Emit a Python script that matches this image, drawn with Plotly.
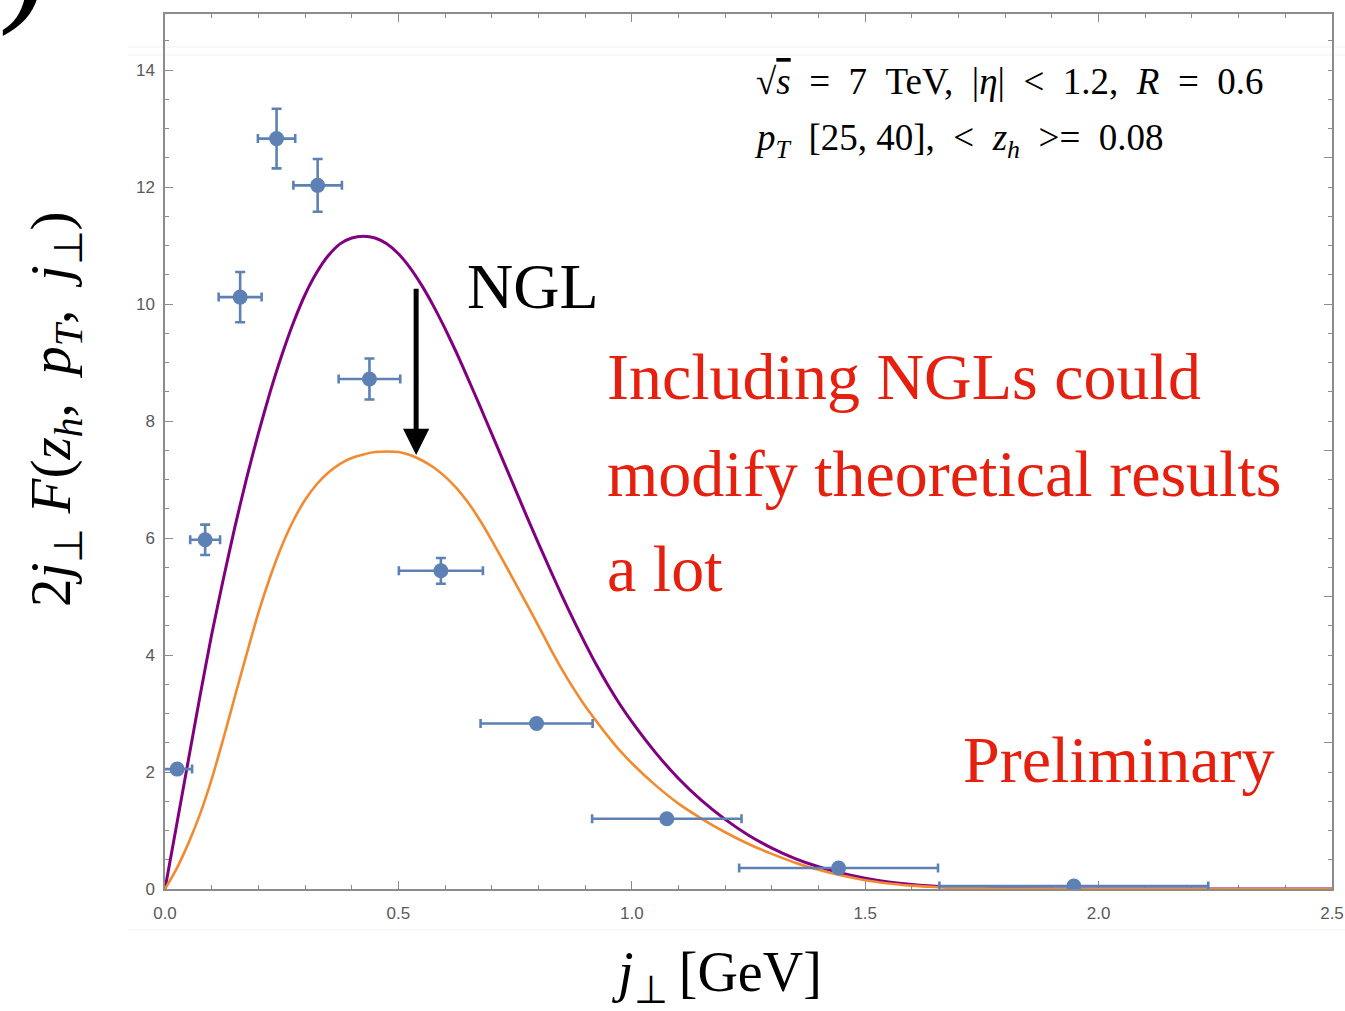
import plotly.graph_objects as go

# Measured j_perp distribution (bin centres, half-widths, uncertainties)
j_data = [0.026, 0.086, 0.161, 0.239, 0.327, 0.438, 0.591, 0.796, 1.075, 1.443, 1.947]
F_data = [2.05, 5.97, 10.12, 12.83, 12.03, 8.72, 5.44, 2.83, 1.20, 0.36, 0.05]
j_err = [0.032, 0.032, 0.046, 0.040, 0.052, 0.066, 0.090, 0.120, 0.160, 0.213, 0.288]
F_err = [0.05, 0.26, 0.43, 0.51, 0.45, 0.35, 0.22, 0.0, 0.0, 0.0, 0.0]

# Theory curve without NGLs
purple_j = [0, 0.025, 0.05, 0.075, 0.1, 0.125, 0.15, 0.175, 0.2, 0.225, 0.25, 0.275,
            0.3, 0.325, 0.35, 0.375, 0.4, 0.425, 0.45, 0.475, 0.5, 0.525, 0.55, 0.575,
            0.6, 0.625, 0.65, 0.675, 0.7, 0.725, 0.75, 0.775, 0.8, 0.825, 0.85, 0.875,
            0.9, 0.925, 0.95, 0.975, 1.0, 1.05, 1.1, 1.15, 1.2, 1.25, 1.3, 1.35, 1.4,
            1.45, 1.5, 1.55, 1.6, 1.65, 1.7, 1.75, 1.8, 1.9, 2.0, 2.5]
purple_F = [0, 1.1, 2.2, 3.3, 4.35, 5.3, 6.2, 7.03, 7.79, 8.49, 9.12, 9.68,
            10.16, 10.54, 10.83, 11.03, 11.13, 11.16, 11.13, 11.03, 10.86, 10.62, 10.32, 9.97,
            9.58, 9.16, 8.71, 8.25, 7.78, 7.31, 6.84, 6.37, 5.91, 5.46, 5.02, 4.6,
            4.2, 3.82, 3.47, 3.15, 2.86, 2.34, 1.89, 1.51, 1.19, 0.92, 0.7, 0.52, 0.38,
            0.27, 0.185, 0.12, 0.075, 0.045, 0.025, 0.013, 0.006, 0.001, 0, 0]

# Theory curve with NGLs
orange_j = [0, 0.025, 0.05, 0.075, 0.1, 0.125, 0.15, 0.175, 0.2, 0.225, 0.25, 0.275,
            0.3, 0.325, 0.35, 0.375, 0.4, 0.425, 0.45, 0.475, 0.5, 0.525, 0.55, 0.575,
            0.6, 0.625, 0.65, 0.675, 0.7, 0.725, 0.75, 0.775, 0.8, 0.825, 0.85, 0.875,
            0.9, 0.925, 0.95, 0.975, 1.0, 1.05, 1.1, 1.15, 1.2, 1.25, 1.3, 1.35, 1.4,
            1.45, 1.5, 1.55, 1.6, 1.65, 1.7, 1.8, 1.9, 2.0, 2.5]
orange_F = [0, 0.35, 0.78, 1.28, 1.88, 2.57, 3.3, 4.02, 4.72, 5.33, 5.86, 6.3,
            6.65, 6.92, 7.12, 7.27, 7.37, 7.43, 7.47, 7.48, 7.47, 7.42, 7.33, 7.21,
            7.05, 6.85, 6.6, 6.3, 5.96, 5.6, 5.24, 4.87, 4.5, 4.12, 3.76, 3.43,
            3.13, 2.86, 2.6, 2.36, 2.15, 1.78, 1.46, 1.2, 0.97, 0.77, 0.6, 0.45, 0.33,
            0.23, 0.15, 0.095, 0.058, 0.034, 0.018, 0.004, 0.001, 0, 0]

x_ticks = [0.0, 0.5, 1.0, 1.5, 2.0, 2.5]
y_ticks = [0, 2, 4, 6, 8, 10, 12, 14]

X_RANGE = [0, 2.5]
Y_RANGE = [0, 14.96]

W, H = 1345, 1011
L, R, T, B = 165, 13, 14, 122
PW, PH = W - L - R, H - T - B


def px(xp):
    return (xp - L) / PW


def py(yp):
    return (H - B - yp) / PH


AX = "#8c8c8c"
BLUE = "#5E81B5"
RED = "#E6200F"
SERIF = "Liberation Serif"
EN = "\u2002"
THIN = "\u2009"

fig = go.Figure()

fig.add_trace(go.Scatter(x=purple_j, y=purple_F, mode="lines",
                         line=dict(color="#800080", width=3, shape="spline", smoothing=0.6),
                         hoverinfo="skip"))
fig.add_trace(go.Scatter(x=orange_j, y=orange_F, mode="lines",
                         line=dict(color="#F28A30", width=2.6, shape="spline", smoothing=0.6),
                         hoverinfo="skip"))
fig.add_trace(go.Scatter(x=j_data, y=F_data, mode="markers",
                         marker=dict(color=BLUE, size=15),
                         error_x=dict(type="data", array=j_err, color=BLUE, thickness=2.6, width=4.5),
                         error_y=dict(type="data", array=F_err, color=BLUE, thickness=2.6, width=5),
                         hoverinfo="skip"))
# carrier for the mirrored frame axes
fig.add_trace(go.Scatter(x=[None], y=[None], xaxis="x2", yaxis="y2", hoverinfo="skip"))

tickfont = dict(family="Liberation Sans", size=17, color="#5a5a5a")
common = dict(ticks="inside", ticklen=8, tickwidth=1, tickcolor=AX, showline=True,
              linecolor=AX, linewidth=1.5, showgrid=False, zeroline=False, automargin=False)

fig.update_layout(
    width=W, height=H,
    margin=dict(l=L, r=R, t=T, b=B),
    plot_bgcolor="white", paper_bgcolor="white",
    showlegend=False,
    xaxis=dict(range=X_RANGE, tickmode="array", tickvals=x_ticks,
               ticktext=[f"{v:.1f}" for v in x_ticks],
               minor=dict(ticks="inside", tickmode="linear", tick0=0, dtick=0.1, ticklen=4.5,
                          tickcolor=AX, showgrid=False),
               tickfont=tickfont, ticklabelstandoff=8, layer="below traces", **common),
    yaxis=dict(range=Y_RANGE, tickmode="array", tickvals=y_ticks,
               ticktext=[str(v) for v in y_ticks],
               minor=dict(ticks="inside", tickmode="linear", tick0=0, dtick=0.5, ticklen=4.5,
                          tickcolor=AX, showgrid=False),
               tickfont=tickfont, ticklabelstandoff=5, layer="below traces", **common),
    xaxis2=dict(range=X_RANGE, overlaying="x", side="top", showticklabels=False,
                tickmode="linear", tick0=0, dtick=0.5,
                minor=dict(ticks="inside", tickmode="linear", tick0=0, dtick=0.1, ticklen=4.5,
                           tickcolor=AX, showgrid=False), **common),
    yaxis2=dict(range=Y_RANGE, overlaying="y", side="right", showticklabels=False,
                tickmode="linear", tick0=0, dtick=2.5,
                minor=dict(ticks="inside", tickmode="linear", tick0=0, dtick=0.5, ticklen=4.5,
                           tickcolor=AX, showgrid=False), **common),
)

# faint rules framing the panel
for yline, x0, x1 in [(930, 128, 1345), (47, 128, 1345), (55, 128, 1345)]:
    fig.add_shape(type="line", xref="paper", yref="paper",
                  x0=px(x0), x1=px(x1), y0=py(yline), y1=py(yline),
                  line=dict(color="#f1f1f1", width=1), layer="below")

ann = []


def text(x, y, s, size, color="black", family=SERIF, xanchor="left", yanchor="middle", angle=0):
    ann.append(dict(x=px(x), y=py(y), xref="paper", yref="paper", text=s, showarrow=False,
                    xanchor=xanchor, yanchor=yanchor, textangle=angle, borderpad=0,
                    font=dict(family=family, size=size, color=color)))


# panel label remnant
text(-3, 38, ")", 150, yanchor="bottom")

# kinematic cuts
text(755, 81,
     f"√<span style='text-decoration:overline'><i>s</i></span>{EN}={EN}7{EN}TeV,{EN}|<i>η</i>|{EN}&lt;{EN}1.2,{EN}<i>R</i>{EN}={EN}0.6",
     37)
text(753, 140,
     f"<i>p</i><sub><i>T</i></sub>{EN}[25, 40],{EN}&lt;{EN}<i>z</i><sub><i>h</i></sub>{EN}&gt;={EN}0.08",
     37)

text(533, 286, "NGL", 64, xanchor="center")

text(606, 377, "Including NGLs could", 66, color=RED)
text(606, 473, "modify theoretical results", 66, color=RED)
text(606, 568, "a lot", 66, color=RED)
text(962, 759, "Preliminary", 66, color=RED)

# axis titles
text(717, 976, f"<i>j</i><sub>⊥</sub>{THIN}[GeV]", 56, xanchor="center")
text(55, 409,
     f"2<i>j</i><sub>⊥</sub> <i>F</i>(<i>z</i><sub><i>h</i></sub>,{EN}<i>p</i><sub><i>T</i></sub>,{EN}<i>j</i><sub>⊥</sub>)",
     57, xanchor="center", angle=-90)

# NGL shift arrow
ann.append(dict(x=0.538, y=7.42, ax=0.538, ay=10.29, xref="x", yref="y", axref="x", ayref="y",
                text="", showarrow=True, arrowhead=2, arrowsize=1.05, arrowwidth=5,
                arrowcolor="black"))

fig.update_layout(annotations=ann)

fig.write_html("out.html")
